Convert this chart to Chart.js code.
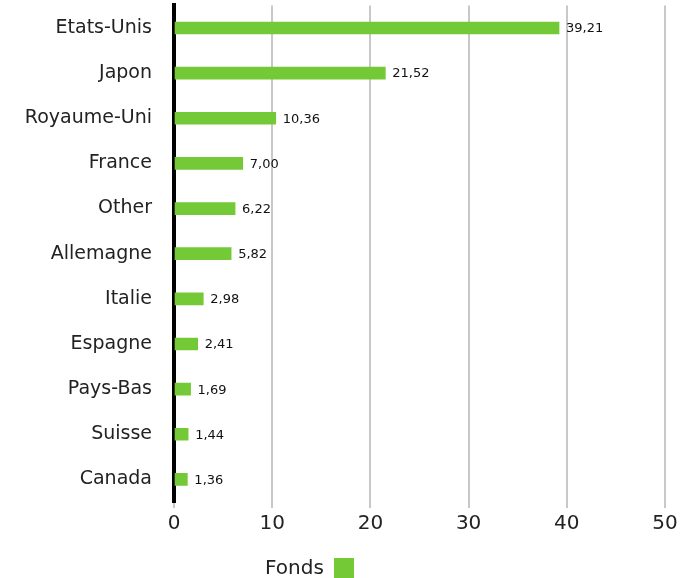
<!DOCTYPE html>
<html>
<head>
<meta charset="utf-8">
<script src="https://cdn.jsdelivr.net/npm/chart.js@4/dist/chart.umd.min.js"></script>
<style>
    html, body { margin: 0; padding: 0; background: #fff; overflow: hidden; }
    #frame { width: 690px; height: 578px; position: relative; overflow: hidden; }
    /* canvas a bit taller, pulled up to drop the empty band chart.js keeps above the plot */
    #wrap { width: 690px; height: 606px; position: absolute; left: 0; top: -28px; }
</style>
</head>
<body>
<div id="frame"><div id="wrap"><canvas id="chart"></canvas></div></div>
<script>
const countries = ['Etats-Unis', 'Japon', 'Royaume-Uni', 'France', 'Other', 'Allemagne',
    'Italie', 'Espagne', 'Pays-Bas', 'Suisse', 'Canada'];
const fondsValues = [39.21, 21.52, 10.36, 7.00, 6.22, 5.82, 2.98, 2.41, 1.69, 1.44, 1.36];
const xTicks = [0, 10, 20, 30, 40, 50];

const FONT = '"DejaVu Sans", "Noto Sans", sans-serif';
const GREEN = '#74c936';
const SHIFT = 28;

// value labels at the end of each bar, with a comma as decimal separator
const valueLabels = {
    id: 'valueLabels',
    afterDatasetsDraw(chart) {
        const ctx = chart.ctx;
        const meta = chart.getDatasetMeta(0);
        ctx.save();
        ctx.font = '13px ' + FONT;
        ctx.fillStyle = '#111';
        ctx.textBaseline = 'middle';
        meta.data.forEach((bar, i) => {
            const txt = fondsValues[i].toFixed(2).replace('.', ',');
            ctx.fillText(txt, bar.x + 7, bar.y + 1);
        });
        ctx.restore();
    }
};

// legend below the chart: text first, then the colour box
const bottomLegend = {
    id: 'bottomLegend',
    afterDraw(chart) {
        const ctx = chart.ctx;
        ctx.save();
        ctx.font = '20px ' + FONT;
        ctx.fillStyle = '#222';
        ctx.textBaseline = 'middle';
        ctx.fillText('Fonds', 265, 569 + SHIFT);
        ctx.fillStyle = GREEN;
        ctx.fillRect(334, 558 + SHIFT, 20, 20);
        ctx.restore();
    }
};

new Chart(document.getElementById('chart'), {
    type: 'bar',
    data: {
        labels: countries,
        datasets: [{
            label: 'Fonds',
            data: fondsValues,
            backgroundColor: GREEN,
            barThickness: 12
        }]
    },
    options: {
        indexAxis: 'y',
        responsive: true,
        maintainAspectRatio: false,
        animation: false,
        layout: { padding: { top: 0, right: 25, left: 0, bottom: 0 } },
        plugins: {
            legend: { display: false },
            tooltip: { enabled: false }
        },
        scales: {
            x: {
                min: 0,
                max: 50,
                afterBuildTicks: (scale) => { scale.ticks = xTicks.map(v => ({ value: v })); },
                afterFit: (scale) => { scale.height = 76; },
                grid: { color: '#c8c8c8', lineWidth: 2, tickLength: 6 },
                border: { display: false },
                ticks: {
                    color: '#222',
                    padding: 4,
                    font: { family: FONT, size: 20 }
                }
            },
            y: {
                afterFit: (scale) => { scale.width = 174; },
                grid: { display: true, color: 'rgba(0,0,0,0)', drawTicks: false },
                border: { display: true, color: '#000', width: 4 },
                ticks: {
                    color: '#222',
                    padding: 22,
                    font: { family: FONT, size: 19 }
                }
            }
        }
    },
    plugins: [valueLabels, bottomLegend]
});
</script>
</body>
</html>
